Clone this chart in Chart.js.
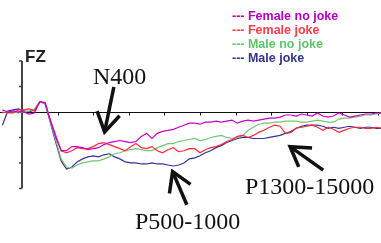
<!DOCTYPE html>
<html>
<head>
<meta charset="utf-8">
<script src="https://cdn.jsdelivr.net/npm/chart.js@4.4.1/dist/chart.umd.min.js"></script>
<style>
  body { margin: 0; background: #fff; }
  #wrap { position: relative; width: 381px; height: 243px; }
  .note { position: absolute; font-family: "Liberation Serif", "Times New Roman", serif; font-size: 24px; line-height: 24px; color: #111; white-space: nowrap; }
  #fz { position: absolute; left: 25px; top: 48px; font: bold 17px/17px "Liberation Sans", Arial, sans-serif; color: #222; }
  #legend { position: absolute; left: 232px; top: 8.5px; font: bold 12.5px/14px "Liberation Sans", Arial, sans-serif; white-space: nowrap; }
</style>
</head>
<body>
<div id="wrap">
  <canvas id="erp"></canvas>
  <div id="fz">FZ</div>
  <div class="note" style="left:93px; top:64px">N400</div>
  <div class="note" style="left:135px; top:209px">P500-1000</div>
  <div class="note" style="left:245px; top:174px">P1300-15000</div>
  <div id="legend"></div>
</div>
<script>
// time in ms, amplitude in uV
const times = [-55, -40, -25, -10, 5, 20, 35, 50, 65, 80, 95, 110, 125, 140, 155, 170, 185, 200, 215, 230,
  245, 260, 275, 290, 305, 320, 335, 350, 365, 380, 395, 410, 425, 440, 455, 470, 485, 500, 515, 530,
  545, 560, 575, 590, 605, 620, 635, 650, 665, 680, 695, 710, 725, 740, 755, 770, 785, 800, 815, 830,
  845, 860, 875, 890, 905, 920, 935, 950, 965, 980, 995, 1010];

const femaleNoJoke = [0.4, 0, 0.2, 0, 0, -0.4, -0.2, 2.0, 1.8, -1.8,
  -5, -7.6, -7.6, -6.8, -6.8, -7, -7.4, -7.2, -7, -6.4,
  -6, -5.8, -5.6, -5.8, -6, -5.8, -4.8, -4.2, -5.2, -4.2,
  -3.8, -3.6, -3.4, -3, -2.6, -2.2, -2.2, -2.4, -2, -2,
  -1.8, -2, -1.8, -1.6, -2.2, -1.8, -1.6, -1.8, -1.6, -1.4,
  -1.2, -1.2, -1, -0.6, -0.6, -0.8, -0.4, -0.6, -0.8, -0.2,
  -0.8, -1, -0.8, -0.2, -0.6, -1, -0.8, -0.6, -0.4, -0.4,
  -0.2, -0.2];
const femaleJoke = [0, -0.2, -0.2, 0.4, 0.4, 0.6, 0.2, 2.0, 1.8, -1.6,
  -4.6, -7.6, -8, -7.6, -7, -7.2, -7.2, -6.8, -6.2, -6,
  -6.4, -6.8, -7.2, -7.6, -6.8, -6.2, -7, -7.2, -6.8, -7.6,
  -8, -7.4, -7, -7.8, -7.6, -7.2, -7.2, -8, -7.4, -7,
  -6.8, -6.4, -5.8, -5.4, -4.8, -4.6, -5, -4.6, -4, -3.6,
  -3, -2.6, -2.8, -4.2, -3.8, -3.2, -3, -2.8, -2.6, -3,
  -3.6, -3, -3.4, -4, -3.6, -3.2, -3, -3, -3.2, -3.2,
  -3, -3.2];
const maleNoJoke = [-0.2, 0, 0, -0.2, 0, 0.2, 0.6, 2, 1.6, -2,
  -5.6, -9.2, -10.8, -11, -10.4, -10, -9.8, -9.6, -9.6, -9.2,
  -8.8, -8.2, -8, -7.6, -7.4, -7.2, -7.4, -7.6, -7.6, -7,
  -6.6, -6.2, -6.2, -5.8, -5.6, -5.4, -5.2, -5.6, -5.4, -5,
  -4.8, -4.6, -5, -5.2, -5, -4.6, -3.6, -3, -2.4, -2.2,
  -2.2, -2, -2, -1.8, -1.8, -1.8, -2, -2, -1.8, -1.6,
  -1.8, -2, -2, -1.4, -1.2, -1.2, -1, -0.8, -0.6, -0.6,
  -0.4, -0.2];
const maleJoke = [-2.6, 0.2, 0.4, 0.6, 0.2, 0, 0.4, 2, 1.6, -2.2,
  -6, -9.6, -11.2, -10.8, -9.8, -9.2, -8.8, -8.6, -8.8, -8.4,
  -8.2, -8.8, -9.2, -9.8, -10, -10, -10.2, -10.2, -10, -10.2,
  -10.2, -10.4, -10.6, -10.4, -10, -9.2, -9, -8.6, -8, -7.6,
  -7, -6.6, -6, -5.6, -5.2, -5, -5, -5.2, -5.2, -5.2,
  -5, -4.8, -4.6, -4.2, -4, -3.2, -2.8, -2.6, -2.6, -2.6,
  -2.8, -3.2, -3, -3.2, -3, -2.8, -3, -3.2, -3, -3,
  -3.2, -3.2];

const seriesNames = ['Female no joke', 'Female joke', 'Male no joke', 'Male joke'];
const xTicks = [100, 200, 300, 400, 500, 600, 700, 800, 900, 1000];
const yTicks = [10, 5, 0, -5, -10, -15];

// arrows: tip and tail in (ms, uV)
const arrows = [
  { tip: [232, -3.9], tail: [258, 4.9] },
  { tip: [423, -11.7], tail: [463, -18.2] },
  { tip: [753, -6.8], tail: [846, -11.4] }
];

const lineColors = ['#cc00cc', '#ff2a35', '#74c474', '#333399'];
const textColors = ['#b000c8', '#ff3a4a', '#5ec46e', '#34348c'];

const seriesData = [femaleNoJoke, femaleJoke, maleNoJoke, maleJoke];

document.getElementById('legend').innerHTML = seriesNames
  .map((n, i) => `<div style="color:${textColors[i]}">--- ${n}</div>`).join('');

const axesPlugin = {
  id: 'erpAxes',
  beforeDatasetsDraw(chart) {
    const { ctx, chartArea, scales: { x, y } } = chart;
    const x0 = x.getPixelForValue(0);
    const y0 = Math.round(y.getPixelForValue(0)) + 0.5;
    ctx.save();
    ctx.strokeStyle = '#111';
    ctx.lineWidth = 1;
    ctx.beginPath();
    ctx.moveTo(chartArea.left, y0);
    ctx.lineTo(chartArea.right, y0);
    xTicks.forEach(t => {
      const px = Math.round(x.getPixelForValue(t)) + 0.5;
      ctx.moveTo(px, y0);
      ctx.lineTo(px, y0 + 3);
    });
    ctx.stroke();

    ctx.strokeStyle = '#444';
    ctx.lineWidth = 2;
    ctx.beginPath();
    ctx.moveTo(x0, y.getPixelForValue(yTicks[0]));
    ctx.lineTo(x0, y.getPixelForValue(yTicks[yTicks.length - 1]));
    ctx.stroke();
    ctx.lineWidth = 1.5;
    ctx.beginPath();
    yTicks.forEach(v => {
      const py = y.getPixelForValue(v);
      ctx.moveTo(x0 - 3, py);
      ctx.lineTo(x0, py);
    });
    ctx.stroke();
    ctx.restore();
  }
};

const arrowPlugin = {
  id: 'arrows',
  afterDatasetsDraw(chart) {
    const { ctx, scales: { x, y } } = chart;
    ctx.save();
    ctx.strokeStyle = '#111';
    ctx.lineWidth = 3.5;
    arrows.forEach(a => {
      const tx = x.getPixelForValue(a.tip[0]), ty = y.getPixelForValue(a.tip[1]);
      const sx = x.getPixelForValue(a.tail[0]), sy = y.getPixelForValue(a.tail[1]);
      const ang = Math.atan2(sy - ty, sx - tx);
      ctx.beginPath();
      ctx.moveTo(sx, sy);
      ctx.lineTo(tx, ty);
      ctx.stroke();
      ctx.beginPath();
      ctx.moveTo(tx + 22 * Math.cos(ang - 0.55), ty + 22 * Math.sin(ang - 0.55));
      ctx.lineTo(tx, ty);
      ctx.lineTo(tx + 22 * Math.cos(ang + 0.55), ty + 22 * Math.sin(ang + 0.55));
      ctx.stroke();
    });
    ctx.restore();
  }
};

const ctx = document.getElementById('erp').getContext('2d');
new Chart(ctx, {
  type: 'line',
  data: {
    datasets: seriesNames.map((name, i) => ({
      label: name,
      data: times.map((t, k) => ({ x: t, y: seriesData[i][k] })),
      borderColor: lineColors[i],
      borderWidth: 1.2,
      pointRadius: 0,
      tension: 0,
      fill: false
    }))
  },
  options: {
    responsive: true,
    maintainAspectRatio: false,
    animation: false,
    events: [],
    layout: { padding: 0 },
    plugins: { legend: { display: false }, tooltip: { enabled: false } },
    scales: {
      x: { type: 'linear', min: -61.8, max: 1008.4, display: false },
      y: { min: -25.7, max: 21.96, display: false }
    }
  },
  plugins: [axesPlugin, arrowPlugin]
});
</script>
</body>
</html>
